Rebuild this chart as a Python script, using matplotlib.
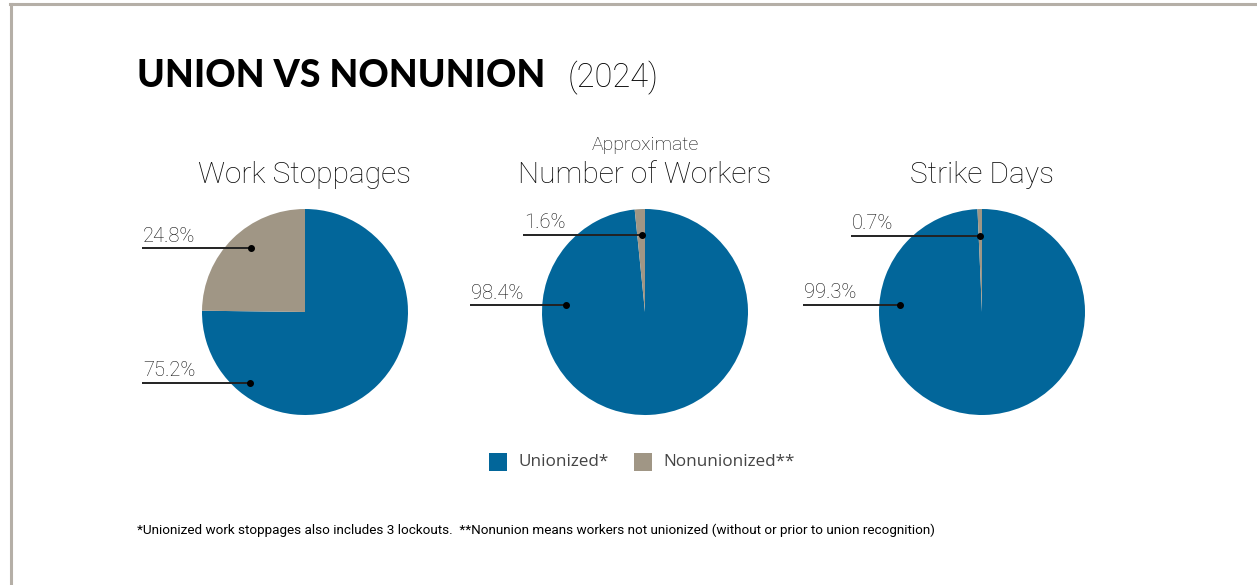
import math
import matplotlib
matplotlib.use("Agg")
import matplotlib.pyplot as plt
from matplotlib.patches import Rectangle
from matplotlib.lines import Line2D

# ---- data ----
chart_title = "UNION VS NONUNION"
chart_year = "(2024)"
pie_titles = ["Work Stoppages", "Number of Workers", "Strike Days"]
pie_subtitles = ["", "Approximate", ""]
categories = ["Unionized*", "Nonunionized**"]
unionized = [75.2, 98.4, 99.3]
nonunionized = [24.8, 1.6, 0.7]
footnote = ("*Unionized work stoppages also includes 3 lockouts.  "
            "**Nonunion means workers not unionized (without or prior to union recognition)")

# ---- style ----
BLUE = "#02669A"
GRAY = "#A09685"
W, H = 1257, 585
fig = plt.figure(figsize=(W / 100, H / 100), dpi=100)
fig.patch.set_facecolor("white")
ax = fig.add_axes([0, 0, 1, 1])

def Y(py):
    return H - py

centers_x = [305, 645, 982]
cy = 312
R = 103
# label layout: (anchor angle deg, anchor radius frac, line start x) per slice
union_anchor = [(232, 0.87, 142), (175, 0.77, 470), (175, 0.80, 803)]
non_anchor = [(130, 0.81, 142), (92, 0.75, 523), (91.5, 0.74, 851)]

for i, cx in enumerate(centers_x):
    vals = [unionized[i], nonunionized[i]]
    ax.pie(vals, colors=[BLUE, GRAY], startangle=90, counterclock=False,
           center=(cx, Y(cy)), radius=R, frame=True,
           wedgeprops=dict(linewidth=0))
    # titles
    ax.text(cx, Y(183), pie_titles[i], fontfamily="Roboto", fontweight="light",
            fontsize=21.5, ha="center", va="baseline", color="#0a0a0a")
    if pie_subtitles[i]:
        ax.text(cx, Y(150), pie_subtitles[i], fontfamily="Roboto", fontweight="light",
                fontsize=14, ha="center", va="baseline", color="#0a0a0a")
    for val, (ang, fr, lx) in ((nonunionized[i], non_anchor[i]),
                               (unionized[i], union_anchor[i])):
        rr = fr * R
        px = cx + rr * math.cos(math.radians(ang))
        py = Y(cy) + rr * math.sin(math.radians(ang))
        ax.plot([lx, px], [py, py], color="#222222", lw=1.4, solid_capstyle="butt")
        ax.plot([px], [py], "o", color="black", ms=4)
        ax.text(lx + 1, py + 2.5, f"{val}%", fontfamily="Roboto",
                fontweight="light", fontsize=14.5, ha="left", va="bottom",
                color="#111111")

ax.set_xlim(0, W)
ax.set_ylim(0, H)
ax.set_aspect("auto")
ax.axis("off")

# border
ax.add_line(Line2D([10, W], [Y(4), Y(4)], color="#B5AFA7", lw=2.2))
ax.add_line(Line2D([11, 11], [Y(4), 0], color="#B5AFA7", lw=2.2))

# title
ax.text(137, Y(87), chart_title, fontfamily="Lato", fontweight="black",
        fontsize=27, color="black", va="baseline", ha="left")
ax.text(568, Y(87), chart_year, fontfamily="Roboto", fontweight="light",
        fontsize=23.5, color="black", va="baseline", ha="left")

# legend
leg_items = [(489, categories[0], BLUE), (634, categories[1], GRAY)]
for x0, lab, col in leg_items:
    ax.add_patch(Rectangle((x0, Y(471)), 18, 18, facecolor=col, edgecolor="none"))
    ax.text(x0 + 29, Y(462), lab, fontfamily="Open Sans", fontsize=12.3,
            color="#444444", ha="left", va="center")

# footnote
ax.text(137, Y(530), footnote, fontfamily="Roboto", fontsize=9.7, color="black",
        ha="left", va="center")

fig.savefig("out.png", dpi=100, facecolor="white")
